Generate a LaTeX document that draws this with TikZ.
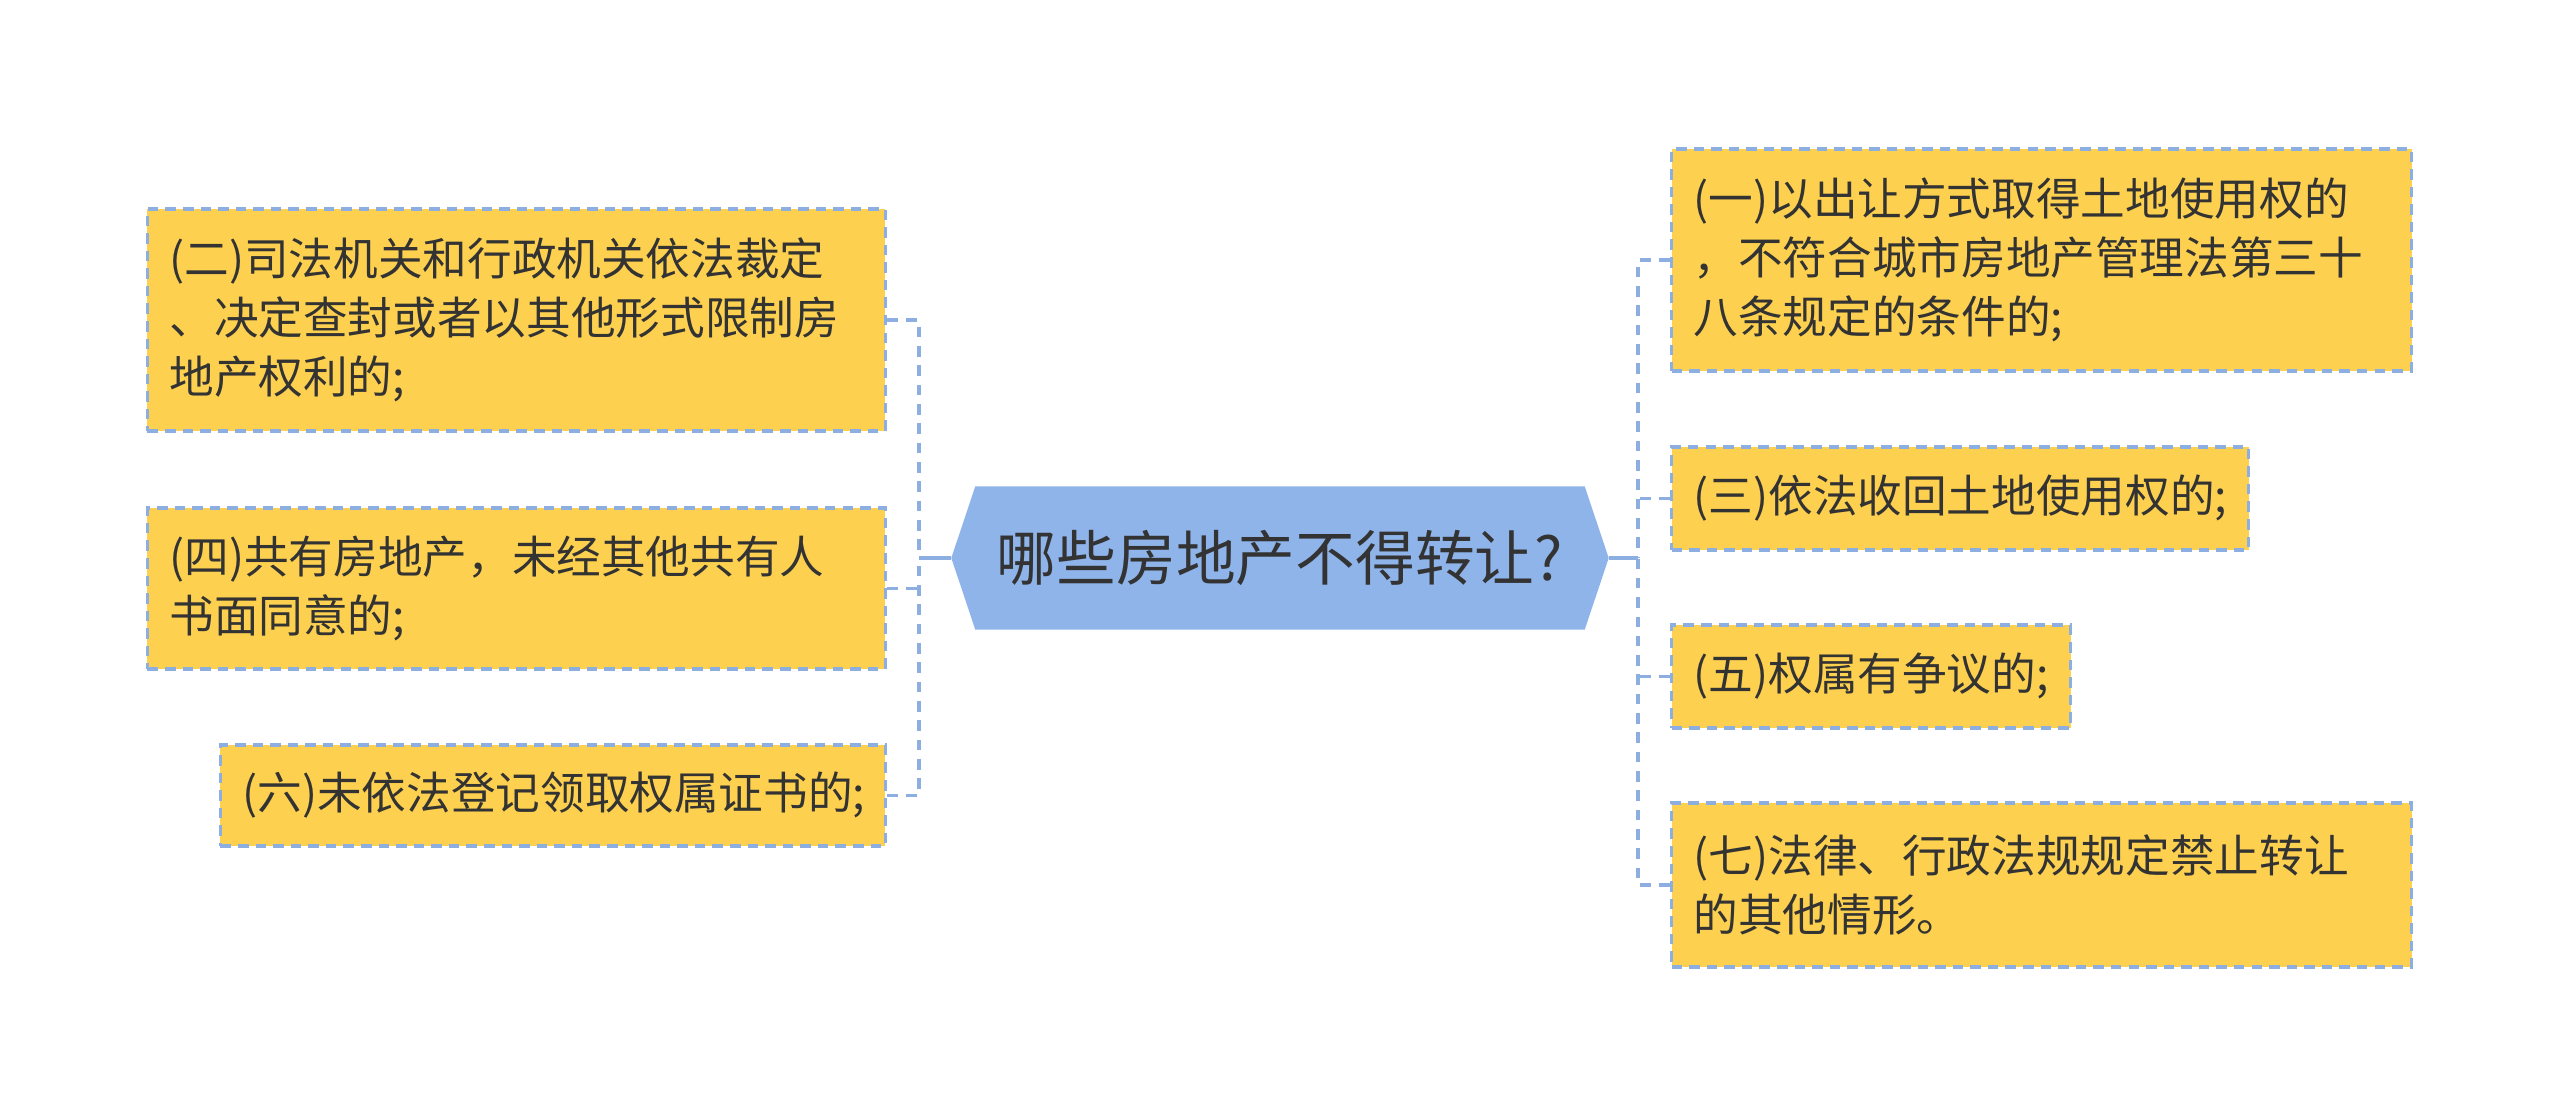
\documentclass[tikz,border=0pt]{standalone}
\usepackage{fontspec}
\newfontfamily\cjk{Noto Sans CJK SC}
\usetikzlibrary{backgrounds}
\definecolor{boxfill}{HTML}{FDD14F}
\definecolor{edgeblue}{HTML}{8DAEE0}
\definecolor{hexfill}{HTML}{8FB4EA}
\definecolor{txt}{HTML}{333333}

\begin{document}
\begin{tikzpicture}[
    item/.style={rectangle, draw=edgeblue, line width=0.9pt, dash pattern=on 3pt off 2pt, fill=boxfill, inner xsep=0.22cm, inner ysep=0pt, align=left, text=txt, font=\cjk\fontsize{12.7}{16.8}\selectfont},
    link/.style={edgeblue, line width=0.9pt, dash pattern=on 3pt off 2.5pt},
    trunk/.style={edgeblue, line width=1.3pt}
]
\useasboundingbox (0,0) rectangle (25.6,11.16);

% Root
\node[minimum width=6.56cm, minimum height=1.42cm, text=txt, font=\cjk\fontsize{17}{20}\selectfont] (root) at (12.80,5.58) {哪些房地产不得转让?};
\begin{scope}[on background layer]
\fill[hexfill] (root.west) -- ([xshift=0.24cm]root.north west) -- ([xshift=-0.24cm]root.north east) -- (root.east) -- ([xshift=-0.24cm]root.south east) -- ([xshift=0.24cm]root.south west) -- cycle;
\end{scope}

% Left items
\node[item, anchor=east, text width=6.94cm, minimum height=2.22cm] (b2) at (8.87,7.96) {(二)司法机关和行政机关依法裁定\\、决定查封或者以其他形式限制房\\地产权利的;};
\node[item, anchor=east, text width=6.94cm, minimum height=1.61cm] (b4) at (8.87,5.275) {(四)共有房地产，未经其他共有人\\书面同意的;};
\node[item, anchor=east, text width=6.21cm, minimum height=1.01cm] (b6) at (8.87,3.205) {(六)未依法登记领取权属证书的;};

% Right items
\node[item, anchor=west, text width=6.96cm, minimum height=2.22cm] (b1) at (16.70,8.56) {(一)以出让方式取得土地使用权的\\，不符合城市房地产管理法第三十\\八条规定的条件的;};
\node[item, anchor=west, text width=5.33cm, minimum height=1.03cm] (b3) at (16.70,6.175) {(三)依法收回土地使用权的;};
\node[item, anchor=west, text width=3.55cm, minimum height=1.03cm] (b5) at (16.70,4.395) {(五)权属有争议的;};
\node[item, anchor=west, text width=6.96cm, minimum height=1.64cm] (b7) at (16.70,2.31) {(七)法律、行政法规规定禁止转让\\的其他情形。};

% Connectors
\coordinate (ltrunk) at (9.19,5.58);
\coordinate (rtrunk) at (16.38,5.58);
\draw[trunk] (root.west) -- (ltrunk);
\draw[trunk] (root.east) -- (rtrunk);
\draw[link] (b2.east) -| (ltrunk);
\draw[link] (b6.east) -| (ltrunk);
\draw[link] (b4.east) -- (b4.east -| ltrunk);
\draw[link] (b1.west) -| (rtrunk);
\draw[link] (b7.west) -| (rtrunk);
\draw[link] (b3.west) -- (b3.west -| rtrunk);
\draw[link] (b5.west) -- (b5.west -| rtrunk);

\end{tikzpicture}
\end{document}
